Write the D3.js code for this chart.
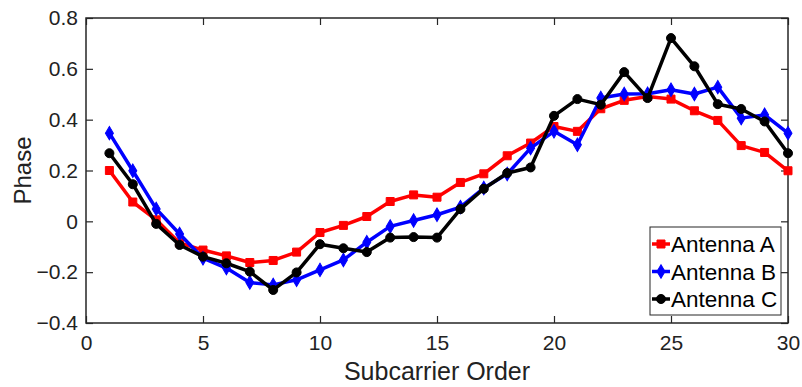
<!DOCTYPE html>
<html>
<head>
<meta charset="utf-8">
<script src="https://cdn.jsdelivr.net/npm/d3@7"></script>
<style>
  html, body { margin: 0; padding: 0; background: #fff; }
  svg { display: block; font-family: "Liberation Sans", Arial, sans-serif; }
</style>
</head>
<body>
<div id="chart"></div>
<script>
// Subcarrier index 1..30
const subcarriers = d3.range(1, 31);

// Phase per antenna
const antennaA = [0.20, 0.076, 0.006, -0.085, -0.113, -0.136, -0.162, -0.154, -0.121, -0.044,
  -0.016, 0.019, 0.078, 0.104, 0.095, 0.153, 0.187, 0.258, 0.308, 0.373,
  0.354, 0.443, 0.476, 0.491, 0.481, 0.435, 0.397, 0.298, 0.271, 0.199];
const antennaB = [0.347, 0.199, 0.049, -0.050, -0.145, -0.184, -0.241, -0.250, -0.230, -0.191,
  -0.152, -0.082, -0.020, 0.003, 0.026, 0.056, 0.131, 0.186, 0.288, 0.354,
  0.301, 0.485, 0.501, 0.502, 0.518, 0.501, 0.528, 0.406, 0.419, 0.347];
const antennaC = [0.268, 0.146, -0.010, -0.093, -0.139, -0.165, -0.198, -0.270, -0.201, -0.090,
  -0.106, -0.121, -0.064, -0.062, -0.064, 0.048, 0.128, 0.190, 0.212, 0.415,
  0.481, 0.459, 0.587, 0.485, 0.721, 0.610, 0.461, 0.442, 0.393, 0.268];

const xTicks = [0, 5, 10, 15, 20, 25, 30];
const yTicks = [-0.4, -0.2, 0, 0.2, 0.4, 0.6, 0.8];

const series = [
  { name: 'Antenna A', values: antennaA, color: '#ff0000', marker: 'square' },
  { name: 'Antenna B', values: antennaB, color: '#0000ff', marker: 'diamond' },
  { name: 'Antenna C', values: antennaC, color: '#000000', marker: 'circle' }
];

const width = 802, height = 387;
const margin = { top: 18, right: 14, bottom: 64, left: 86 };
const innerW = width - margin.left - margin.right;
const innerH = height - margin.top - margin.bottom;
const axisColor = '#262626';

const svg = d3.select('#chart').append('svg')
  .attr('width', width)
  .attr('height', height);

const g = svg.append('g')
  .attr('transform', `translate(${margin.left},${margin.top})`);

const x = d3.scaleLinear().domain([0, 30]).range([0, innerW]);
const y = d3.scaleLinear().domain([-0.4, 0.8]).range([innerH, 0]);

// Axes (ticks inside, MATLAB style)
const tickLen = 7;
g.append('g')
  .attr('transform', `translate(0,${innerH})`)
  .call(d3.axisBottom(x).tickValues(xTicks).tickSizeInner(-tickLen).tickSizeOuter(0).tickPadding(12))
  .call(a => a.select('.domain').remove());
g.append('g')
  .call(d3.axisTop(x).tickValues(xTicks).tickSizeInner(-tickLen).tickSizeOuter(0).tickFormat(''))
  .call(a => a.select('.domain').remove());
g.append('g')
  .call(d3.axisLeft(y).tickValues(yTicks).tickSizeInner(-tickLen).tickSizeOuter(0).tickPadding(8)
    .tickFormat(d => d === 0 ? '0' : d3.format('.1f')(d)))
  .call(a => a.select('.domain').remove());
g.append('g')
  .attr('transform', `translate(${innerW},0)`)
  .call(d3.axisRight(y).tickValues(yTicks).tickSizeInner(-tickLen).tickSizeOuter(0).tickFormat(''))
  .call(a => a.select('.domain').remove());

g.selectAll('.tick line').attr('stroke', axisColor).attr('stroke-width', 1.2);
g.selectAll('.tick text')
  .attr('fill', '#222')
  .attr('font-size', '21px')
  .attr('font-family', '"Liberation Sans", Arial, sans-serif');

g.append('rect')
  .attr('width', innerW)
  .attr('height', innerH)
  .attr('fill', 'none')
  .attr('stroke', axisColor)
  .attr('stroke-width', 1.5);

// Marker helper
const markerPath = {
  square: d3.symbol().type(d3.symbolSquare).size(64),
  diamond: d3.symbol().type(d3.symbolDiamond2).size(64),
  circle: d3.symbol().type(d3.symbolCircle).size(64)
};
function drawMarker(sel, s, tx, ty) {
  return sel.append('path')
    .attr('d', markerPath[s.marker]())
    .attr('fill', s.color)
    .attr('stroke', s.color)
    .attr('stroke-width', 1)
    .attr('transform', s.marker === 'diamond'
      ? `translate(${tx},${ty}) scale(0.8,1.35)`
      : `translate(${tx},${ty})`);
}

const line = d3.line().x((d, i) => x(subcarriers[i])).y(d => y(d));

series.forEach(s => {
  const sg = g.append('g');
  sg.append('path')
    .datum(s.values)
    .attr('fill', 'none')
    .attr('stroke', s.color)
    .attr('stroke-width', 3.5)
    .attr('stroke-linejoin', 'round')
    .attr('d', line);
  s.values.forEach((v, i) => drawMarker(sg, s, x(subcarriers[i]), y(v)));
});

// Axis titles
svg.append('text')
  .attr('x', margin.left + innerW / 2)
  .attr('y', 380)
  .attr('text-anchor', 'middle')
  .attr('font-size', '25px')
  .attr('fill', '#222')
  .text('Subcarrier Order');

svg.append('text')
  .attr('transform', `translate(31,${margin.top + innerH / 2}) rotate(-90)`)
  .attr('text-anchor', 'middle')
  .attr('font-size', '24px')
  .attr('fill', '#222')
  .text('Phase');

// Legend
const legend = svg.append('g').attr('transform', 'translate(650,227)');
legend.append('rect')
  .attr('width', 131)
  .attr('height', 88)
  .attr('fill', '#fff')
  .attr('stroke', axisColor)
  .attr('stroke-width', 1);

series.forEach((s, i) => {
  const ly = 17 + i * 27.5;
  legend.append('line')
    .attr('x1', 2).attr('x2', 20)
    .attr('y1', ly).attr('y2', ly)
    .attr('stroke', s.color)
    .attr('stroke-width', 3.5);
  drawMarker(legend, s, 11, ly);
  legend.append('text')
    .attr('x', 21)
    .attr('y', ly)
    .attr('dy', '0.36em')
    .attr('font-size', '22.5px')
    .attr('fill', '#000')
    .text(s.name);
});
</script>
</body>
</html>
